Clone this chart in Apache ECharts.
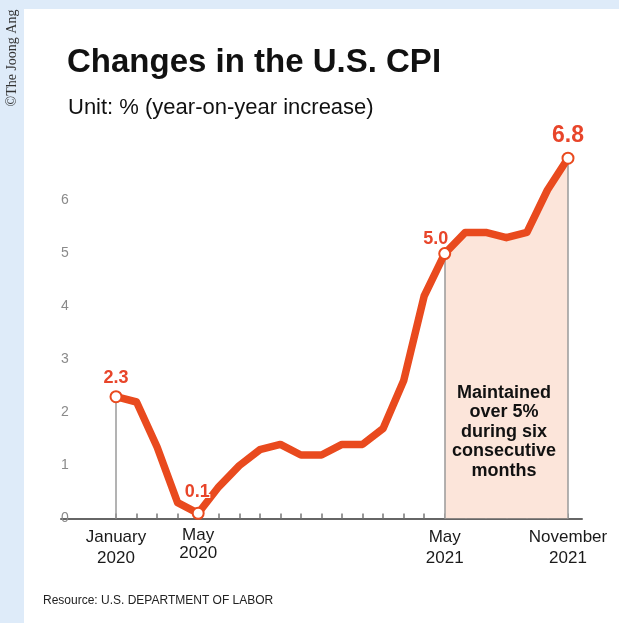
<!DOCTYPE html>
<html>
<head>
<meta charset="utf-8">
<script src="https://cdn.jsdelivr.net/npm/echarts@6/dist/echarts.min.js"></script>
<style>
html,body{margin:0;padding:0;background:#fff;}
#chart{width:619px;height:623px;}
</style>
</head>
<body>
<div id="chart"></div>
<script>
// ---- data ----
const months = ['Jan 2020','Feb 2020','Mar 2020','Apr 2020','May 2020','Jun 2020','Jul 2020','Aug 2020','Sep 2020','Oct 2020','Nov 2020','Dec 2020',
                'Jan 2021','Feb 2021','Mar 2021','Apr 2021','May 2021','Jun 2021','Jul 2021','Aug 2021','Sep 2021','Oct 2021','Nov 2021'];
const cpi = [2.3, 2.2, 1.35, 0.3, 0.1, 0.6, 1.0, 1.3, 1.4, 1.2, 1.2, 1.4,
             1.4, 1.7, 2.6, 4.2, 5.0, 5.4, 5.4, 5.3, 5.4, 6.2, 6.8];
const yTicks = [0, 1, 2, 3, 4, 5, 6];
const xLabelIdx = [0, 4, 16, 22];
const xLabels = ['January\n2020', 'May\n2020', 'May\n2021', 'November\n2021'];
const annotIdx = [0, 4, 16, 22];
const dropIdx = [0, 16, 22];
const shadeFrom = 16, shadeTo = 22;
const titleText = 'Changes in the U.S. CPI';
const subtitleText = 'Unit: % (year-on-year increase)';
const noteText = 'Maintained\nover 5%\nduring six\nconsecutive\nmonths';
const sourceText = 'Resource: U.S. DEPARTMENT OF LABOR';
const creditText = '\u00A9The Joong Ang';

// ---- styles ----
const RED = '#e94a1e';
const LABEL_RED = '#e8452a';
const FONT = '"Liberation Sans", Arial, Helvetica, sans-serif';

const labelCfg = {
  0:  {distance: 3, offset: [0, 0], fontSize: 18},
  4:  {distance: 6, offset: [-1, 0], fontSize: 18},
  16: {distance: 3, offset: [-9, 4], fontSize: 18},
  22: {distance: 6, offset: [0, 1], fontSize: 23}
};

const lineData = cpi.map((v, i) => {
  if (annotIdx.indexOf(i) >= 0) {
    const c = labelCfg[i];
    return {
      value: v,
      symbol: 'circle',
      symbolSize: 11,
      label: {
        show: true, position: 'top', distance: c.distance, offset: c.offset,
        formatter: (p) => p.value.toFixed(1),
        color: LABEL_RED, fontWeight: 'bold', fontSize: c.fontSize, fontFamily: FONT,
        textBorderColor: '#fff', textBorderWidth: 2
      }
    };
  }
  return {value: v, symbol: 'none'};
});

const shadeData = cpi.map((v, i) => (i >= shadeFrom && i <= shadeTo) ? v : null);

const dropLines = dropIdx.map(i => [
  {coord: [months[i], 0]},
  {coord: [months[i], cpi[i]]}
]);

const chart = echarts.init(document.getElementById('chart'), null, {renderer: 'canvas'});
chart.setOption({
  animation: false,
  backgroundColor: '#fff',
  textStyle: {fontFamily: FONT},
  title: [
    {text: titleText, left: 67, top: 46, padding: 0,
     textStyle: {fontSize: 33, fontWeight: 'bold', color: '#111', fontFamily: FONT}},
    {text: subtitleText, left: 68, top: 97, padding: 0,
     textStyle: {fontSize: 22, fontWeight: 'normal', color: '#111', fontFamily: FONT}},
    {text: sourceText, left: 43, top: 595, padding: 0,
     textStyle: {fontSize: 12, fontWeight: 'normal', color: '#222', fontFamily: FONT}}
  ],
  graphic: [
    {type: 'rect', z: -10, shape: {x: 0, y: 0, width: 24, height: 623}, style: {fill: '#deebf9'}},
    {type: 'rect', z: -10, shape: {x: 0, y: 0, width: 619, height: 9}, style: {fill: '#deebf9'}},
    {type: 'text', x: 12, y: 58, rotation: Math.PI / 2,
     style: {text: creditText, font: '14px "Liberation Serif", "Times New Roman", serif', fill: '#333',
             align: 'center', verticalAlign: 'middle'}},
    {type: 'text', x: 504, y: 432,
     style: {text: noteText, font: 'bold 18px ' + FONT, fill: '#111', lineHeight: 19.5,
             align: 'center', verticalAlign: 'middle'}, z: 10}
  ],
  grid: [
    {left: 116, right: 51, top: 147.6, bottom: 104.4},
    {left: 61, right: 37, top: 147.6, bottom: 104.4}
  ],
  xAxis: [
    {
      type: 'category', gridIndex: 0, data: months, boundaryGap: false,
      axisLine: {show: false},
      axisTick: {show: true, inside: true, length: 5, interval: 0, lineStyle: {color: '#777', width: 1.5}},
      axisLabel: {
        show: true, interval: 0, margin: 8, color: '#1a1a1a', fontSize: 17, fontFamily: FONT,
        formatter: (val, idx) => {
          const k = xLabelIdx.indexOf(idx);
          if (k < 0) return '';
          return idx === 4 ? '{b|' + xLabels[k] + '}' : '{a|' + xLabels[k] + '}';
        },
        rich: {
          a: {fontSize: 17, lineHeight: 21, color: '#1a1a1a', fontFamily: FONT, align: 'center'},
          b: {fontSize: 17, lineHeight: 18, color: '#1a1a1a', fontFamily: FONT, align: 'center'}
        }
      },
      splitLine: {show: false}
    },
    {
      type: 'value', gridIndex: 1, min: 0, max: 1,
      axisLine: {show: true, onZero: false, lineStyle: {color: '#666', width: 2}},
      axisTick: {show: false}, axisLabel: {show: false}, splitLine: {show: false}
    }
  ],
  yAxis: [
    {
      type: 'value', gridIndex: 0, min: 0, max: 7, interval: 1,
      axisLine: {show: false}, axisTick: {show: false}, splitLine: {show: false},
      axisLabel: {
        show: true, margin: 51, align: 'center', color: '#8a8a8a', fontSize: 14, fontFamily: FONT,
        padding: [0, 0, 10, 0],
        formatter: (v) => yTicks.indexOf(v) >= 0 ? String(v) : ''
      }
    },
    {type: 'value', gridIndex: 1, min: 0, max: 1, show: false}
  ],
  series: [
    {
      name: 'shade', type: 'line', xAxisIndex: 0, yAxisIndex: 0, z: 1,
      data: shadeData, symbol: 'none', connectNulls: false,
      lineStyle: {width: 0, opacity: 0},
      areaStyle: {color: '#fce5da', opacity: 1},
      markLine: {
        silent: true, symbol: ['none', 'none'], label: {show: false},
        lineStyle: {color: '#9a9a9a', width: 1.5, type: 'solid'},
        data: dropLines
      }
    },
    {
      name: 'CPI', type: 'line', xAxisIndex: 0, yAxisIndex: 0, z: 5,
      data: lineData, showSymbol: true, symbol: 'none',
      lineStyle: {color: RED, width: 7.5, cap: 'round', join: 'round'},
      itemStyle: {color: '#fff', borderColor: RED, borderWidth: 2},
      emphasis: {disabled: true}
    }
  ]
});
</script>
</body>
</html>
